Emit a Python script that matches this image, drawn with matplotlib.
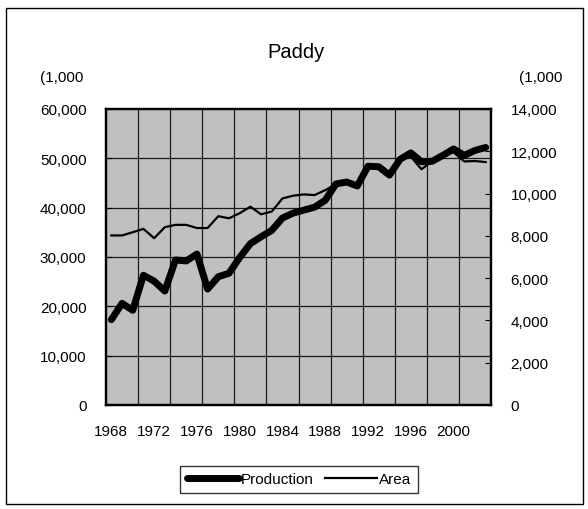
import matplotlib
matplotlib.use("Agg")
import matplotlib.pyplot as plt
from matplotlib.patches import Rectangle
from matplotlib.ticker import FuncFormatter

plt.rcParams['font.family'] = ['Liberation Sans', 'DejaVu Sans']

# data
years = list(range(1968, 2004))
production = [17300, 20600, 19200, 26300, 25100, 23100, 29400, 29200, 30600, 23500,
              26000, 26700, 29900, 32700, 34100, 35400, 37900, 38900, 39500, 40100,
              41500, 44800, 45200, 44400, 48400, 48300, 46600, 49800, 51100, 49300,
              49400, 50600, 51900, 50600, 51600, 52200]
area = [8020, 8020, 8170, 8330, 7890, 8410, 8520, 8520, 8370, 8370,
        8930, 8830, 9070, 9380, 9020, 9150, 9770, 9900, 9960, 9930,
        10160, 10450, 10540, 10360, 11280, 11260, 10870, 11600, 11750, 11150,
        11520, 11800, 11950, 11520, 11540, 11490]
xtick_years = [1968, 1972, 1976, 1980, 1984, 1988, 1992, 1996, 2000]

W, H = 588, 510
fig = plt.figure(figsize=(W / 100, H / 100), dpi=100)

# outer chart border
fig.patches.append(Rectangle((6 / W, 1 - 505 / H), 577 / W, 496 / H,
                             transform=fig.transFigure, fill=False,
                             edgecolor='black', lw=1))

ax = fig.add_axes([106 / W, 1 - 406 / H, 385 / W, 296 / H])
ax.set_facecolor('#c0c0c0')
ax.set_xlim(years[0] - 0.5, years[-1] + 0.5)
ax.set_ylim(0, 60000)
ax.set_yticks(range(0, 60001, 10000))
ax.yaxis.set_major_formatter(FuncFormatter(lambda v, p: f"{v:,.0f}"))
ax.set_xticks(xtick_years)
ax.tick_params(axis='x', length=0, pad=14, labelsize=11)
ax.tick_params(axis='y', direction='in', length=4, pad=14, labelsize=11)

# grid: horizontal at major ticks, vertical every 3 categories
for v in range(10000, 60000, 10000):
    ax.axhline(v, color='#1a1a1a', lw=0.9, zorder=1)
for b in range(years[0] + 3, years[-1], 3):
    ax.axvline(b - 0.5, color='#1a1a1a', lw=0.9, zorder=1)

ln1, = ax.plot(years, production, color='black', lw=5, zorder=3,
               solid_joinstyle='round', solid_capstyle='round', label='Production')

ax2 = ax.twinx()
ax2.set_ylim(0, 14000)
ax2.set_yticks(range(0, 14001, 2000))
ax2.yaxis.set_major_formatter(FuncFormatter(lambda v, p: f"{v:,.0f}"))
ax2.tick_params(axis='y', direction='in', length=4, pad=14, labelsize=11)
ln2, = ax2.plot(years, area, color='black', lw=1.6, zorder=3, label='Area')

for a in (ax, ax2):
    for s in a.spines.values():
        s.set_linewidth(1.6)

fig.text(296 / W, 1 - 53 / H, 'Paddy', ha='center', va='center', fontsize=14.5)
fig.text(62 / W, 1 - 78 / H, '(1,000', ha='center', va='center', fontsize=11)
fig.text(541 / W, 1 - 78 / H, '(1,000', ha='center', va='center', fontsize=11)

leg = fig.legend([ln1, ln2], ['Production', 'Area'], ncol=2, loc='center',
                 bbox_to_anchor=(299 / W, 1 - 480.5 / H), bbox_transform=fig.transFigure,
                 fontsize=11, frameon=True, fancybox=False, edgecolor='black',
                 handlelength=3.4, handletextpad=0.1, columnspacing=0.8,
                 borderpad=0.45, borderaxespad=0)
leg.get_frame().set_linewidth(1)

fig.savefig('out.png', dpi=100)
